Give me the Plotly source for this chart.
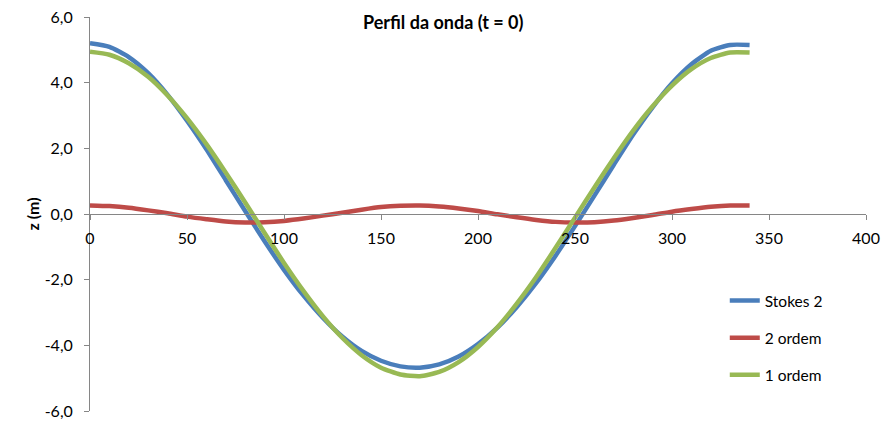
import plotly.graph_objects as go

x_m = [0, 10, 20, 30, 40, 50, 60, 70, 80, 90, 100, 110, 120, 130, 140, 150, 160, 170,
       180, 190, 200, 210, 220, 230, 240, 250, 260, 270, 280, 290, 300, 310, 320, 330, 340]

stokes2 = [5.20, 5.09, 4.78, 4.29, 3.63, 2.84, 1.97, 1.03, 0.09, -0.83, -1.70, -2.48, -3.16,
           -3.73, -4.17, -4.47, -4.64, -4.68, -4.58, -4.34, -3.96, -3.46, -2.83, -2.10, -1.27,
           -0.37, 0.56, 1.50, 2.42, 3.25, 3.98, 4.56, 4.97, 5.15, 5.15]

ordem2 = [0.26, 0.24, 0.19, 0.11, 0.02, -0.08, -0.16, -0.23, -0.26, -0.25, -0.21, -0.14, -0.05,
          0.04, 0.13, 0.21, 0.25, 0.26, 0.23, 0.17, 0.09, -0.01, -0.10, -0.18, -0.24, -0.26,
          -0.25, -0.20, -0.12, -0.03, 0.07, 0.15, 0.22, 0.26, 0.26]

ordem1 = [4.94, 4.85, 4.59, 4.18, 3.61, 2.92, 2.13, 1.26, 0.35, -0.58, -1.49, -2.34, -3.11,
          -3.77, -4.30, -4.68, -4.89, -4.94, -4.81, -4.51, -4.05, -3.45, -2.73, -1.92, -1.03,
          -0.11, 0.81, 1.70, 2.54, 3.28, 3.91, 4.41, 4.75, 4.92, 4.92]

series_names = ["Stokes 2", "2 ordem", "1 ordem"]
series_vals = [stokes2, ordem2, ordem1]
colors = ["#4A7EBB", "#BE4B48", "#98B954"]

x_ticks = [0, 50, 100, 150, 200, 250, 300, 350, 400]
y_ticks = [-6, -4, -2, 0, 2, 4, 6]
y_tick_labels = ["-6,0", "-4,0", "-2,0", "0,0", "2,0", "4,0", "6,0"]

FONT = "Lato, 'Open Sans', sans-serif"

fig = go.Figure()
for i, (name, vals, col) in enumerate(zip(series_names, series_vals, colors)):
    fig.add_trace(go.Scatter(
        x=x_m, y=vals, name=name, mode="lines",
        line=dict(color=col, width=4.5, shape="spline", smoothing=0.6),
        legendgroup=f"g{i}",
    ))

axis_col = "#868686"
fig.update_layout(
    width=883, height=421,
    margin=dict(l=90, r=17, t=17, b=10, autoexpand=False),
    paper_bgcolor="white", plot_bgcolor="white",
    font=dict(family=FONT, size=16, color="#000000"),
    title=dict(text="<b>Perfil da onda (t = 0)</b>", x=0.502, xref="container", xanchor="center",
               y=0.945, yref="container", yanchor="middle", font=dict(size=18, family=FONT)),
    showlegend=True,
    legend=dict(x=0.818, y=0.3225, xanchor="left", yanchor="top",
                traceorder="grouped", tracegroupgap=14,
                font=dict(size=15.5, family=FONT), bgcolor="rgba(0,0,0,0)"),
    xaxis=dict(range=[0, 400], tickmode="array", tickvals=x_ticks,
               ticktext=[str(v) for v in x_ticks], showgrid=False, zeroline=False,
               showline=True, linecolor=axis_col, linewidth=1,
               ticks="outside", ticklen=5, tickcolor=axis_col,
               anchor="free", position=0.5, automargin=False,
               ticklabelstandoff=5,
               tickfont=dict(size=16, family=FONT)),
    yaxis=dict(range=[-6, 6], tickmode="array", tickvals=y_ticks, ticktext=y_tick_labels,
               showgrid=False, automargin=False,
               zeroline=False, showline=True, linecolor=axis_col, linewidth=1,
               ticks="outside", ticklen=5, tickcolor=axis_col,
               ticklabelstandoff=8,
               title=dict(text="<b>z (m)</b>", standoff=1, font=dict(size=16, family=FONT)),
               tickfont=dict(size=16, family=FONT)),
)

fig.write_html("out.html", config={"displayModeBar": False})

# remove default page margin so the figure sits at the top-left corner
with open("out.html", "r", encoding="utf-8") as f:
    html = f.read()
html = html.replace("<body>", '<body style="margin:0;padding:0;overflow:hidden">', 1)
with open("out.html", "w", encoding="utf-8") as f:
    f.write(html)
